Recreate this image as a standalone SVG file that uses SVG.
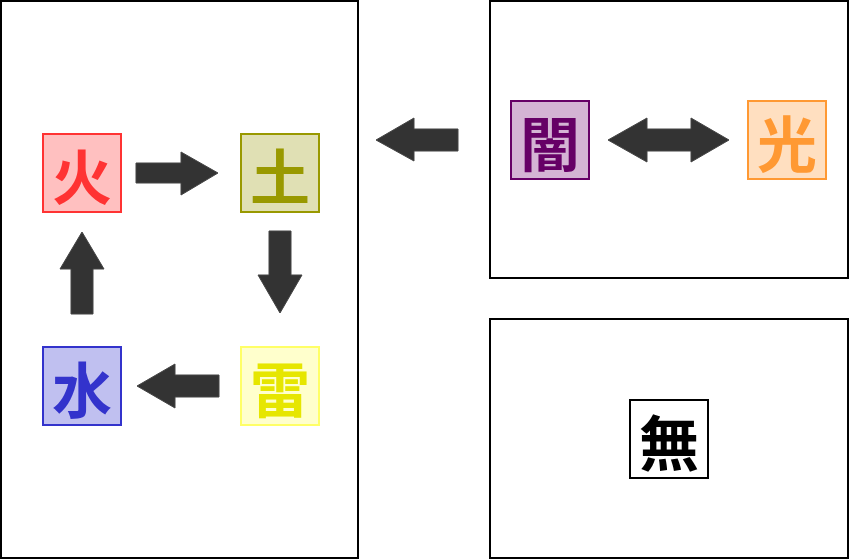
<svg xmlns="http://www.w3.org/2000/svg" width="849" height="560" viewBox="0 0 849 560">
<style>
.frame{fill:#fff;stroke:#000;stroke-width:2}
.node{stroke-width:2}
.lbl{font-family:"Noto Sans CJK JP","Noto Sans CJK SC",sans-serif;font-weight:bold;font-size:60px;text-anchor:middle;dominant-baseline:central}
.arr{fill:#333;stroke:#444;stroke-width:1}
</style>
<rect width="849" height="560" fill="#fff"/>
<g id="frame-left"><rect class="frame" x="1" y="1" width="357" height="557"/></g>
<g id="frame-top-right"><rect class="frame" x="490" y="1" width="358" height="277"/></g>
<g id="frame-bottom-right"><rect class="frame" x="490" y="319" width="358" height="239"/></g>

<g id="connectors">
  <path class="arr" d="M136,163 H181 V152 L218,173 L181,195 V183 H136 Z"/>
  <path class="arr" d="M269,231 H291 V275 H302 L280,313 L258,275 H269 Z"/>
  <path class="arr" d="M219,375 V397 H175 V408 L137,386 L175,364 V375 Z"/>
  <path class="arr" d="M71,314 V269 H60 L82,232 L104,269 H93 V314 Z"/>
  <path class="arr" d="M458,129 V151 H414 V161 L376,140 L414,118 V129 Z"/>
  <path class="arr" d="M608,140 L647,118 V129 H691 V118 L729,140 L691,162 V151 H647 V162 Z"/>
</g>

<g id="node-fire">
  <rect class="node" x="43" y="134" width="78" height="78" fill="#ffc0c0" stroke="#ff3333"/>
  <text class="lbl" x="82" y="173" fill="#ff3333">火</text>
</g>
<g id="node-earth">
  <rect class="node" x="241" y="134" width="78" height="78" fill="#e0e0b4" stroke="#999900"/>
  <text class="lbl" x="280" y="173" fill="#999900">土</text>
</g>
<g id="node-thunder">
  <rect class="node" x="241" y="347" width="78" height="78" fill="#ffffcc" stroke="#ffff66"/>
  <text class="lbl" x="280" y="386" fill="#e6e600">雷</text>
</g>
<g id="node-water">
  <rect class="node" x="43" y="347" width="78" height="78" fill="#c0c0f0" stroke="#3333cc"/>
  <text class="lbl" x="82" y="386" fill="#3333cc">水</text>
</g>
<g id="node-dark">
  <rect class="node" x="511" y="101" width="78" height="78" fill="#d4b4d4" stroke="#660066"/>
  <text class="lbl" x="550" y="140" fill="#660066">闇</text>
</g>
<g id="node-light">
  <rect class="node" x="748" y="101" width="78" height="78" fill="#ffdfc0" stroke="#ff9933"/>
  <text class="lbl" x="787" y="140" fill="#ff9933">光</text>
</g>
<g id="node-void">
  <rect class="node" x="630" y="400" width="78" height="78" fill="#fff" stroke="#000"/>
  <text class="lbl" x="669" y="439" fill="#000">無</text>
</g>
</svg>
